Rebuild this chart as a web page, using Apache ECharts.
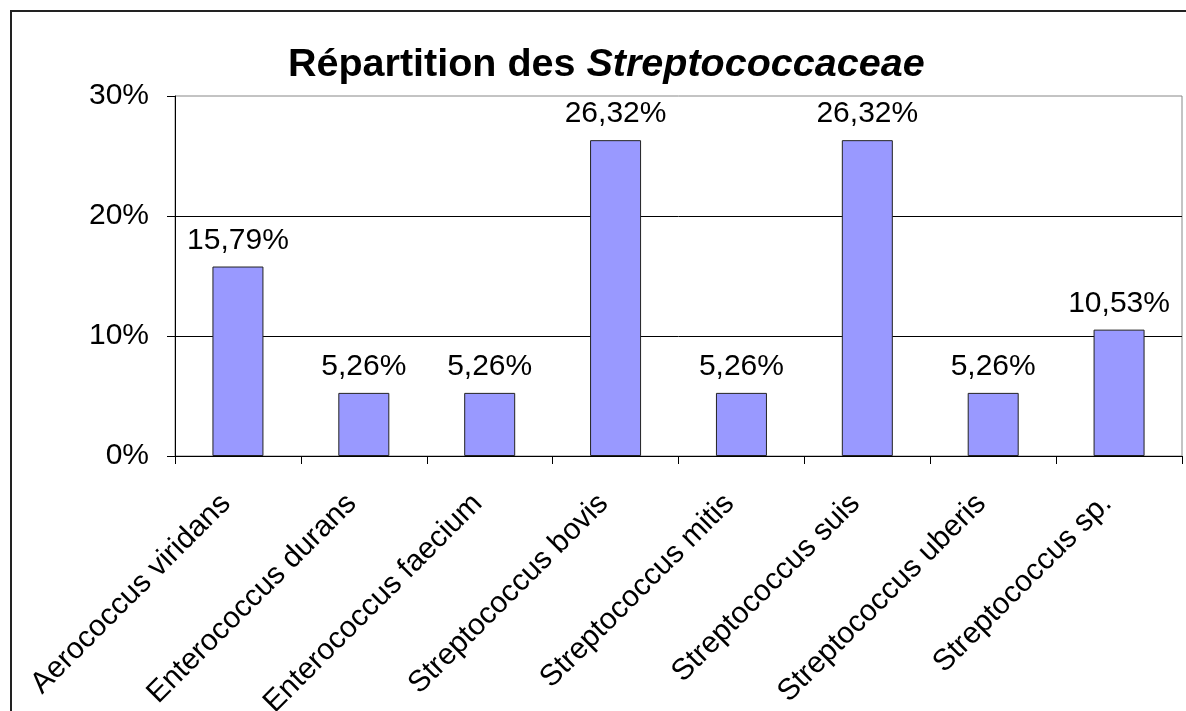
<!DOCTYPE html>
<html>
<head>
<meta charset="utf-8">
<script src="https://cdn.jsdelivr.net/npm/echarts@6/dist/echarts.min.js"></script>
<style>
  html, body { margin: 0; padding: 0; background: #fff; }
  #chart { width: 1186px; height: 711px; }
</style>
</head>
<body>
<div id="chart"></div>
<script>
// categories and values (percent)
const categories = [
  "Aerococcus viridans",
  "Enterococcus durans",
  "Enterococcus faecium",
  "Streptococcus bovis",
  "Streptococcus mitis",
  "Streptococcus suis",
  "Streptococcus uberis",
  "Streptococcus sp."
];
const values = [15.79, 5.26, 5.26, 26.32, 5.26, 26.32, 5.26, 10.53];
const yTicks = [0, 10, 20, 30];

const font = "Liberation Sans, Arial, sans-serif";

const chart = echarts.init(document.getElementById("chart"));

const option = {
  backgroundColor: "#fff",
  animation: false,
  title: {
    left: 283,
    top: 40,
    text: "{a|Répartition des }{b|Streptococcaceae}",
    textStyle: {
      rich: {
        a: { fontFamily: font, fontSize: 39.5, fontWeight: "bold", color: "#000" },
        b: { fontFamily: font, fontSize: 39.5, fontWeight: "bold", fontStyle: "italic", color: "#000" }
      }
    }
  },
  graphic: [
    {
      type: "rect",
      shape: { x: 11, y: 11, width: 1300, height: 900 },
      style: { fill: "none", stroke: "#222", lineWidth: 2 },
      silent: true
    }
  ],
  grid: {
    left: 175,
    top: 96,
    right: 4,
    bottom: 255,
    outerBoundsMode: "none",
    containLabel: false,
    show: true,
    borderColor: "#888",
    borderWidth: 1
  },
  xAxis: {
    type: "category",
    data: categories,
    axisLine: { lineStyle: { color: "#000", width: 1 } },
    axisTick: { show: true, length: 8, lineStyle: { color: "#000" } },
    axisLabel: {
      rotate: 45,
      margin: 31,
      padding: [0, 17, 0, 0],
      interval: 0,
      fontFamily: font,
      fontSize: 30,
      color: "#000"
    }
  },
  yAxis: {
    type: "value",
    min: yTicks[0],
    max: yTicks[yTicks.length - 1],
    interval: 10,
    axisLine: { show: true, lineStyle: { color: "#000", width: 1 } },
    axisTick: { show: true, length: 8, lineStyle: { color: "#000" } },
    axisLabel: {
      margin: 26,
      fontFamily: font,
      fontSize: 30,
      color: "#000",
      formatter: v => v + "%"
    },
    splitLine: { show: true, showMaxLine: false, lineStyle: { color: "#000", width: 1 } }
  },
  series: [
    {
      type: "bar",
      data: values,
      barWidth: 51,
      itemStyle: { color: "#9999ff", borderColor: "#222", borderWidth: 1 },
      label: {
        show: true,
        position: "top",
        distance: 11,
        fontFamily: font,
        fontSize: 30,
        color: "#000",
        formatter: p => p.value.toFixed(2).replace(".", ",") + "%"
      }
    }
  ]
};

chart.setOption(option);
window.addEventListener("resize", function() {
  chart.resize();
});
</script>
</body>
</html>
